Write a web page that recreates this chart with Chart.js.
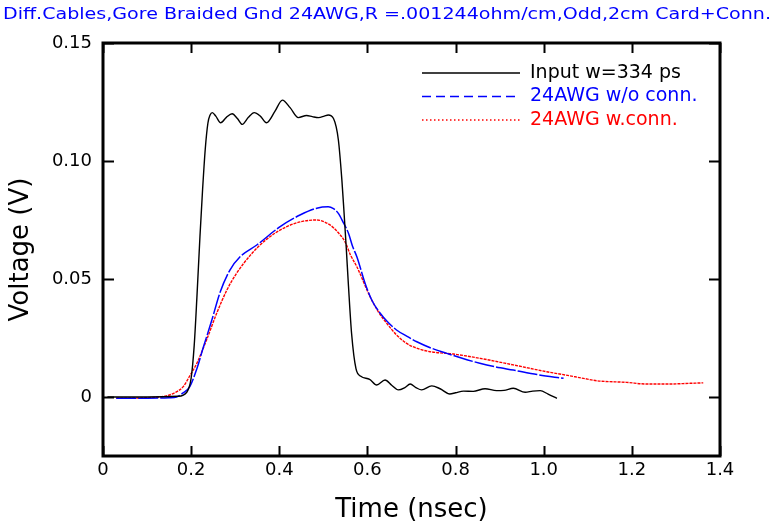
<!DOCTYPE html>
<html>
<head>
<meta charset="utf-8">
<title>Diff. cables step response</title>
<script src="https://cdn.jsdelivr.net/npm/chart.js@4.4.0/dist/chart.umd.min.js"></script>
<style>
html,body{margin:0;padding:0;background:#fff;}
#wrap{position:relative;width:781px;height:527px;}
</style>
</head>
<body>
<div id="wrap"><canvas id="c" width="781" height="527"></canvas></div>
<script>
var FONT = '"DejaVu Sans", "Liberation Sans", sans-serif';

var plotTitle = 'Diff.Cables,Gore Braided Gnd 24AWG,R =.001244ohm/cm,Odd,2cm Card+Conn.';
var seriesNames = ['Input w=334 ps', '24AWG w/o conn.', '24AWG w.conn.'];

// axis ticks
var xTickValues = [0, 0.2, 0.4, 0.6, 0.8, 1.0, 1.2, 1.4];
var xTickLabels = ['0', '0.2', '0.4', '0.6', '0.8', '1.0', '1.2', '1.4'];
var yTickValues = [0, 0.05, 0.10, 0.15];
var yTickLabels = ['0', '0.05', '0.10', '0.15'];

// input pulse (nsec / V)
var inputTime = [0.01, 0.10, 0.17, 0.19, 0.20, 0.207, 0.213, 0.22, 0.226, 0.232, 0.238, 0.243, 0.248, 0.256,
    0.267, 0.28, 0.293, 0.305, 0.316, 0.33, 0.343, 0.357, 0.371, 0.39, 0.407, 0.425, 0.443, 0.462, 0.475,
    0.489, 0.502, 0.511, 0.523, 0.534, 0.542, 0.547, 0.552, 0.557, 0.564, 0.574, 0.585, 0.605, 0.621,
    0.64, 0.655, 0.67, 0.685, 0.697, 0.71, 0.723, 0.746, 0.765, 0.787, 0.80, 0.818, 0.84, 0.867, 0.893,
    0.91, 0.931, 0.958, 0.975, 0.992, 1.01, 1.03];
var inputVolt = [0, 0, 0.0003, 0.002, 0.008, 0.022, 0.042, 0.068, 0.088, 0.105, 0.116, 0.1195, 0.1205, 0.119,
    0.1162, 0.1185, 0.1200, 0.118, 0.1155, 0.1185, 0.1205, 0.119, 0.1162, 0.121, 0.1258, 0.1225, 0.1184, 0.1193, 0.1188,
    0.1184, 0.119, 0.1195, 0.118, 0.109, 0.092, 0.078, 0.063, 0.047, 0.027, 0.012, 0.0088, 0.0075, 0.0051,
    0.0072, 0.005, 0.003, 0.004, 0.0055, 0.004, 0.003, 0.0047, 0.0035, 0.0013, 0.0018, 0.0025, 0.0024, 0.0035, 0.0027,
    0.0028, 0.0037, 0.002, 0.0025, 0.0027, 0.0012, -0.0006];

// 24AWG cable without connector
var bareTime = [0.03, 0.10, 0.15, 0.167, 0.18, 0.197, 0.213, 0.228, 0.247, 0.265, 0.288, 0.311, 0.349,
    0.402, 0.447, 0.485, 0.511, 0.523, 0.534, 0.545, 0.557, 0.566, 0.576, 0.595, 0.61, 0.629, 0.645,
    0.666, 0.69, 0.712, 0.745, 0.78, 0.815, 0.855, 0.89, 0.931, 0.985, 1.045];
var bareVolt = [-0.0005, -0.0005, -0.0003, 0, 0.0015, 0.0044, 0.012, 0.0213, 0.0326, 0.044, 0.0538, 0.0594, 0.0644,
    0.0722, 0.0771, 0.080, 0.0806, 0.0798, 0.0778, 0.074, 0.0694, 0.064, 0.0594, 0.048, 0.041, 0.0355, 0.032,
    0.0284, 0.0257, 0.0234, 0.0207, 0.0185, 0.0164, 0.0143, 0.0128, 0.0114, 0.0095, 0.0079];

// 24AWG cable with connector
var connTime = [0.03, 0.10, 0.144, 0.165, 0.182, 0.197, 0.213, 0.235, 0.258, 0.281, 0.303, 0.334, 0.371, 0.417, 0.455,
    0.485, 0.515, 0.532, 0.549, 0.562, 0.576, 0.606, 0.625, 0.644, 0.665, 0.689, 0.715, 0.742, 0.795,
    0.855, 0.931, 1.007, 1.05, 1.09, 1.12, 1.188, 1.234, 1.28, 1.332, 1.362];
var connVolt = [-0.0005, -0.0003, 0.0005, 0.002, 0.0044, 0.009, 0.0143, 0.0242, 0.0355, 0.0453, 0.0524, 0.060, 0.0668, 0.0722, 0.0745,
    0.075, 0.0729, 0.070, 0.0658, 0.060, 0.0552, 0.0425, 0.036, 0.0312, 0.0265, 0.0227, 0.0205, 0.0192, 0.0182,
    0.0164, 0.0136, 0.0107, 0.0093, 0.0079, 0.0069, 0.0062, 0.0055, 0.0055, 0.0058, 0.006];

function pts(t, v){
    var out = [];
    for (var i = 0; i < t.length; i++) out.push({ x: t[i], y: v[i] });
    return out;
}

// title across the top, stretched to the full width
var topTitle = {
    id: 'topTitle',
    afterDraw: function(chart){
        var ctx = chart.ctx;
        ctx.save();
        ctx.font = '16px ' + FONT;
        ctx.fillStyle = '#0000ff';
        ctx.textBaseline = 'middle';
        var w = ctx.measureText(plotTitle).width;
        var target = 768;
        ctx.translate(3, 15);
        ctx.scale(target / w, 1);
        ctx.fillText(plotTitle, 0, 0);
        ctx.restore();
    }
};

// box around the plot with inward ticks on all four sides
var frameTicks = {
    id: 'frameTicks',
    afterDatasetsDraw: function(chart){
        var ctx = chart.ctx, a = chart.chartArea;
        var sx = chart.scales.x, sy = chart.scales.y;
        ctx.save();
        ctx.strokeStyle = '#000';
        ctx.lineWidth = 2;
        ctx.beginPath();
        for (var i = 0; i < xTickValues.length; i++) {
            var px = Math.round(sx.getPixelForValue(xTickValues[i])) + 0.5;
            ctx.moveTo(px, a.bottom); ctx.lineTo(px, a.bottom - 10);
            ctx.moveTo(px, a.top); ctx.lineTo(px, a.top + 10);
        }
        for (var j = 0; j < yTickValues.length; j++) {
            var py = Math.round(sy.getPixelForValue(yTickValues[j])) + 0.5;
            ctx.moveTo(a.left, py); ctx.lineTo(a.left + 11, py);
            ctx.moveTo(a.right, py); ctx.lineTo(a.right - 11, py);
        }
        ctx.stroke();
        ctx.lineWidth = 3;
        ctx.strokeRect(a.left, a.top, a.right - a.left, a.bottom - a.top);
        ctx.restore();
    }
};

// legend box in the upper right corner
var cornerLegend = {
    id: 'cornerLegend',
    afterDraw: function(chart){
        var ctx = chart.ctx;
        var dashes = [[], [9, 5], [1.5, 2.5]];
        ctx.save();
        ctx.font = '19px ' + FONT;
        ctx.textBaseline = 'middle';
        for (var i = 0; i < chart.data.datasets.length; i++) {
            var ds = chart.data.datasets[i];
            var y = 73 + i * 23.5;
            ctx.strokeStyle = ds.borderColor;
            ctx.lineWidth = 1.5;
            ctx.setLineDash(dashes[i]);
            ctx.beginPath();
            ctx.moveTo(422, y);
            ctx.lineTo(520, y);
            ctx.stroke();
            ctx.setLineDash([]);
            ctx.fillStyle = ds.borderColor;
            ctx.fillText(ds.label, 530, y);
        }
        ctx.restore();
    }
};

var chart = new Chart(document.getElementById('c'), {
    type: 'line',
    data: {
        datasets: [{
            label: seriesNames[0],
            data: pts(inputTime, inputVolt),
            borderColor: '#000000',
            borderWidth: 1.4,
            pointRadius: 0,
            cubicInterpolationMode: 'monotone'
        }, {
            label: seriesNames[1],
            data: pts(bareTime, bareVolt),
            borderColor: '#0000ff',
            borderWidth: 1.5,
            borderDash: [20, 2],
            pointRadius: 0,
            cubicInterpolationMode: 'monotone'
        }, {
            label: seriesNames[2],
            data: pts(connTime, connVolt),
            borderColor: '#ff0000',
            borderWidth: 1.4,
            borderDash: [3, 1],
            pointRadius: 0,
            cubicInterpolationMode: 'monotone'
        }]
    },
    options: {
        responsive: false,
        animation: false,
        events: [],
        layout: { padding: { top: 43, right: 61, left: 0, bottom: 0 } },
        plugins: {
            legend: { display: false },
            tooltip: { enabled: false },
            title: { display: false }
        },
        scales: {
            x: {
                type: 'linear',
                min: 0,
                max: 1.4,
                afterBuildTicks: function(s){
                    s.ticks = xTickValues.map(function(v){ return { value: v }; });
                },
                afterFit: function(s){ s.height = 71; },
                grid: { display: false, drawTicks: false },
                border: { display: false },
                ticks: {
                    padding: 4,
                    color: '#000',
                    maxRotation: 0,
                    autoSkip: false,
                    font: { family: FONT, size: 18 },
                    callback: function(v, i){ return xTickLabels[i]; }
                },
                title: {
                    display: true,
                    text: 'Time (nsec)',
                    color: '#000',
                    font: { family: FONT, size: 26 },
                    padding: { top: 0, bottom: 1 }
                }
            },
            y: {
                type: 'linear',
                min: -0.025,
                max: 0.15,
                afterBuildTicks: function(s){
                    s.ticks = yTickValues.map(function(v){ return { value: v }; });
                },
                afterFit: function(s){ s.width = 103; },
                grid: { display: false, drawTicks: false },
                border: { display: false },
                ticks: {
                    padding: 11,
                    color: '#000',
                    font: { family: FONT, size: 18 },
                    callback: function(v, i){ return yTickLabels[i]; }
                },
                title: {
                    display: true,
                    text: 'Voltage (V)',
                    color: '#000',
                    font: { family: FONT, size: 26 },
                    padding: { top: 6, bottom: 0 }
                }
            }
        }
    },
    plugins: [topTitle, frameTicks, cornerLegend]
});
</script>
</body>
</html>
